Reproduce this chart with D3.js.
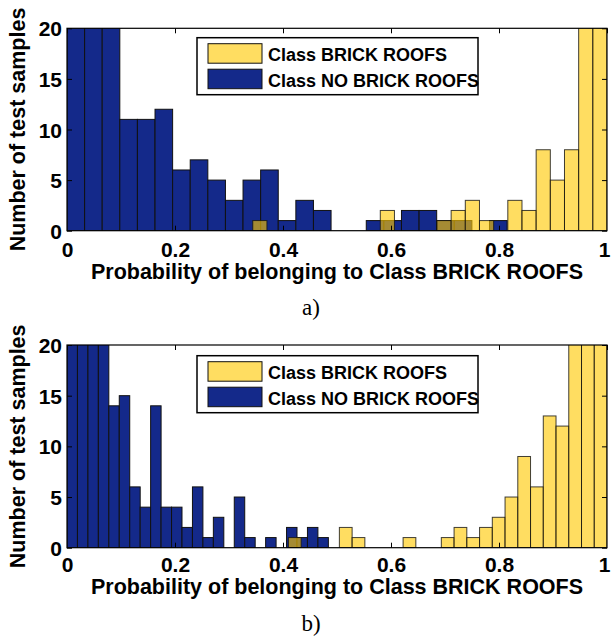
<!DOCTYPE html>
<html lang="en">
<head>
  <meta charset="UTF-8">
  <title>Probability of belonging to Class BRICK ROOFS</title>
  <script src="https://d3js.org/d3.v7.min.js"></script>
  <style>
    body {
      margin: 0;
      background: white;
    }
    svg {
      display: block;
      font-family: "Liberation Sans", Arial, sans-serif;
    }
    .tick text {
      font-size: 21px;
      font-weight: bold;
      fill: black;
    }
    .tick line {
      stroke: black;
    }
    .axis-label {
      font-size: 21.5px;
      font-weight: bold;
    }
    .legend-text {
      font-size: 18px;
      font-weight: bold;
    }
    .caption {
      font-family: "Liberation Serif", "Times New Roman", serif;
      font-size: 23px;
    }
  </style>
</head>
<body>

<svg width="611" height="637"></svg>

<script>
  // Histogram counts, 25 bins per class (values > 20 are clipped)
  const blueA   = [25, 30, 22, 11, 11, 12, 6, 7, 5, 3, 5, 6, 1, 3, 2, 0, 0, 1, 1, 2, 2, 1, 1, 0, 1];
  const yellowA = [1, 0, 0, 0, 0, 0, 0, 0, 0, 2, 0, 0, 0, 1, 2, 3, 1, 0, 3, 2, 8, 5, 8, 25, 30];
  const blueB   = [25, 28, 30, 22, 14, 15, 6, 4, 14, 4, 4, 2, 6, 1, 3, 0, 5, 1, 0, 1, 0, 2, 1, 2, 1];
  const yellowB = [1, 0, 0, 0, 2, 1, 0, 0, 0, 1, 0, 0, 1, 2, 1, 2, 3, 5, 9, 6, 13, 12, 25, 30, 28];

  // bin ranges [min, max] of each class
  const blueRangeA   = [0, 0.815];
  const yellowRangeA = [0.344, 1];
  const blueRangeB   = [0, 0.484];
  const yellowRangeB = [0.41, 1];

  const xTicks = [0, 0.2, 0.4, 0.6, 0.8, 1];
  const yTicks = [0, 5, 10, 15, 20];
  const legendLabels = ["Class BRICK ROOFS", "Class NO BRICK ROOFS"];

  const blueColor = "#14298a";
  const yellowColor = "#ffc800";
  const yellowAlpha = 0.62;

  const svg = d3.select("svg");

  const panels = [
    {id: "a", blue: blueA, yellow: yellowA, blueRange: blueRangeA, yellowRange: yellowRangeA,
     top: 28.3, bottom: 230.7, tickPad: 11, xLabelY: 279, capY: 315, legendY: 37.7},
    {id: "b", blue: blueB, yellow: yellowB, blueRange: blueRangeB, yellowRange: yellowRangeB,
     top: 345, bottom: 547.7, tickPad: 9, xLabelY: 594, capY: 631, legendY: 355.7}
  ];

  const left = 67, right = 607;

  function bins(counts, range) {
    const w = (range[1] - range[0]) / counts.length;
    return counts.map((c, i) => ({x0: range[0] + i * w, x1: range[0] + (i + 1) * w, n: c}));
  }

  panels.forEach(p => {
    const x = d3.scaleLinear().domain([0, 1]).range([left, right]);
    const y = d3.scaleLinear().domain([0, 20]).range([p.bottom, p.top]);
    const g = svg.append("g");

    g.append("clipPath")
        .attr("id", "clip-" + p.id)
      .append("rect")
        .attr("x", left)
        .attr("y", p.top)
        .attr("width", right - left)
        .attr("height", p.bottom - p.top);

    const plot = g.append("g").attr("clip-path", `url(#clip-${p.id})`);

    // Blue bars
    plot.selectAll(".blue")
        .data(bins(p.blue, p.blueRange).filter(d => d.n > 0))
        .enter()
        .append("rect")
        .attr("x", d => x(d.x0))
        .attr("y", d => y(d.n))
        .attr("width", d => x(d.x1) - x(d.x0))
        .attr("height", d => p.bottom - y(d.n))
        .attr("fill", blueColor)
        .attr("stroke", "#111")
        .attr("stroke-width", 1);

    // Yellow bars (semi-transparent, on top)
    plot.selectAll(".yellow")
        .data(bins(p.yellow, p.yellowRange).filter(d => d.n > 0))
        .enter()
        .append("rect")
        .attr("x", d => x(d.x0))
        .attr("y", d => y(d.n))
        .attr("width", d => x(d.x1) - x(d.x0))
        .attr("height", d => p.bottom - y(d.n))
        .attr("fill", yellowColor)
        .attr("fill-opacity", yellowAlpha)
        .attr("stroke", "#111")
        .attr("stroke-opacity", 0.8)
        .attr("stroke-width", 1);

    // Axes, ticks pointing inward
    const fmt = d => d3.format("~g")(d);
    g.append("g")
        .attr("transform", `translate(0,${p.bottom})`)
        .call(d3.axisBottom(x).tickValues(xTicks).tickFormat(fmt).tickSize(-5).tickPadding(p.tickPad))
        .call(a => a.select(".domain").remove())
        .call(a => a.selectAll("line").filter(d => d === 0 || d === 1).remove())
        .call(a => a.selectAll("text").filter(d => d === 1).attr("dx", -3));
    g.append("g")
        .attr("transform", `translate(0,${p.top})`)
        .call(d3.axisTop(x).tickValues(xTicks).tickFormat("").tickSize(-5))
        .call(a => a.select(".domain").remove());
    g.append("g")
        .attr("transform", `translate(${left},0)`)
        .call(d3.axisLeft(y).tickValues(yTicks).tickSize(-5).tickPadding(5))
        .call(a => a.select(".domain").remove())
        .call(a => a.selectAll("text").attr("dy", "0.36em"));
    g.append("g")
        .attr("transform", `translate(${right},0)`)
        .call(d3.axisRight(y).tickValues(yTicks).tickFormat("").tickSize(-5))
        .call(a => a.select(".domain").remove());

    // Frame
    g.append("rect")
        .attr("x", left)
        .attr("y", p.top)
        .attr("width", right - left)
        .attr("height", p.bottom - p.top)
        .attr("fill", "none")
        .attr("stroke", "black")
        .attr("stroke-width", 1.2);

    // Axis labels
    g.append("text")
        .attr("class", "axis-label")
        .attr("x", (left + right) / 2)
        .attr("y", p.xLabelY)
        .attr("text-anchor", "middle")
        .text("Probability of belonging to Class BRICK ROOFS");

    g.append("text")
        .attr("class", "axis-label")
        .attr("transform", `translate(25,${(p.top + p.bottom) / 2}) rotate(-90)`)
        .attr("text-anchor", "middle")
        .text("Number of test samples");

    g.append("text")
        .attr("class", "caption")
        .attr("x", 311)
        .attr("y", p.capY)
        .attr("text-anchor", "middle")
        .text(p.id + ")");

    // Legend
    const lg = g.append("g").attr("transform", `translate(197,${p.legendY})`);
    lg.append("rect")
        .attr("width", 281)
        .attr("height", 57)
        .attr("fill", "white")
        .attr("stroke", "black")
        .attr("stroke-width", 1.5);

    legendLabels.forEach((lab, i) => {
      lg.append("rect")
          .attr("x", 11)
          .attr("y", 6 + i * 25.5)
          .attr("width", 54)
          .attr("height", 19.5)
          .attr("fill", i === 0 ? yellowColor : blueColor)
          .attr("fill-opacity", i === 0 ? yellowAlpha : 1)
          .attr("stroke", "#111")
          .attr("stroke-width", 1);
      lg.append("text")
          .attr("class", "legend-text")
          .attr("x", 71)
          .attr("y", 23.5 + i * 25.5)
          .text(lab);
    });
  });
</script>

</body>
</html>
